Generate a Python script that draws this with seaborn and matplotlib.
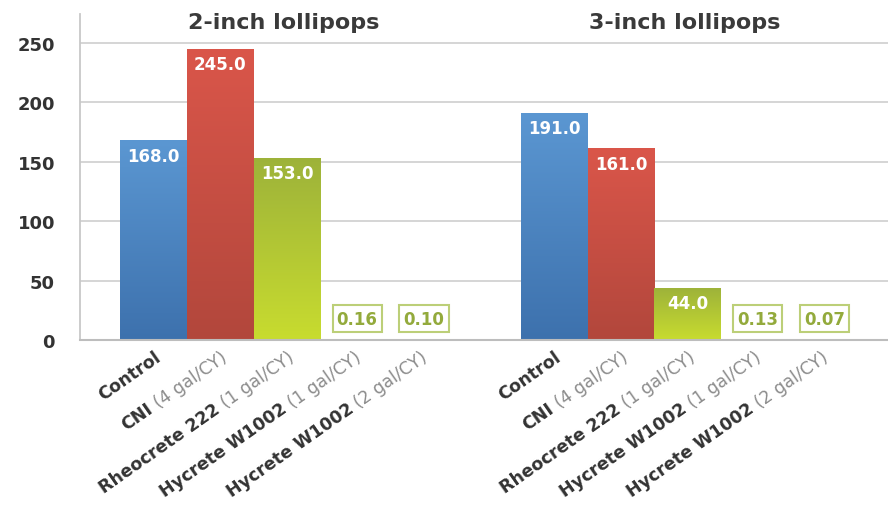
import numpy as np
import pandas as pd
import matplotlib
matplotlib.use("Agg")
import matplotlib.pyplot as plt
import seaborn as sns
from matplotlib.colors import LinearSegmentedColormap
from matplotlib.transforms import blended_transform_factory, offset_copy

# data
groups = ["2-inch lollipops", "3-inch lollipops"]
product_names = ["Control", "CNI", "Rheocrete 222", "Hycrete W1002", "Hycrete W1002"]
product_doses = ["", "(4 gal/CY)", "(1 gal/CY)", "(1 gal/CY)", "(2 gal/CY)"]
values_2in = [168.0, 245.0, 153.0, 0.16, 0.10]
values_3in = [191.0, 161.0, 44.0, 0.13, 0.07]

# (top, bottom) gradient colours per product
bar_colors = [("#5b97d2", "#3d71ad"), ("#da564a", "#b2473c"),
              ("#9db23a", "#c8dc2f"), ("#9db23a", "#c8dc2f"), ("#9db23a", "#c8dc2f")]

rows = []
for g, vals in zip(groups, [values_2in, values_3in]):
    for i, (name, dose, v) in enumerate(zip(product_names, product_doses, vals)):
        rows.append(dict(slot=f"{g}|{i}", group=g, idx=i, name=name, dose=dose, value=v))
df = pd.DataFrame(rows)

order = list(df.slot[df.group == groups[0]]) + ["gap"] + list(df.slot[df.group == groups[1]])
palette = {s: bar_colors[i][0] for s, i in zip(df.slot, df.idx)}

sns.set_style("white")
plt.rcParams["font.family"] = ["DejaVu Sans"]

fig = plt.figure(figsize=(8.88, 5.06), dpi=100)
ax = fig.add_axes([80 / 888, (506 - 341) / 506, 808 / 888, 326 / 506])

sns.barplot(data=df, x="slot", y="value", order=order, hue="slot", palette=palette,
            width=1.0, saturation=1, legend=False, ax=ax, edgecolor="none")

# gradient fill clipped to each bar
grad = np.linspace(0, 1, 256).reshape(-1, 1)
for patch in ax.patches:
    h = patch.get_height()
    if h < 1:
        continue
    x0, w = patch.get_x(), patch.get_width()
    pos = int(round(x0 + w / 2))
    i = int(df.loc[df.slot == order[pos], "idx"].iloc[0])
    top, bottom = bar_colors[i]
    cmap = LinearSegmentedColormap.from_list("g", [bottom, top])
    im = ax.imshow(grad, extent=[x0, x0 + w, 0, h], origin="lower", aspect="auto",
                   cmap=cmap, zorder=patch.get_zorder() + 0.1)
    im.set_clip_path(patch)

ax.set_xlim(-1.1, 11.0)
ax.set_ylim(0, 274)
ax.set_yticks([0, 50, 100, 150, 200, 250])
ax.set_xticks([])
ax.set_xlabel("")
ax.set_ylabel("")
ax.yaxis.grid(True, color="#d2d2d2", lw=1.3)
ax.set_axisbelow(True)
for s in ["top", "right"]:
    ax.spines[s].set_visible(False)
ax.spines["left"].set_color("#c8c8c8")
ax.spines["left"].set_linewidth(1.3)
ax.spines["bottom"].set_color("#bdbdbd")
ax.spines["bottom"].set_linewidth(1.5)
ax.tick_params(axis="y", length=8, color="#d2d2d2", width=1.3, pad=10,
               labelsize=13, labelcolor="#333333")
for lab in ax.get_yticklabels():
    lab.set_fontweight("bold")

# value labels
for _, r in df.iterrows():
    pos = order.index(r.slot)
    if r.value >= 1:
        ax.text(pos, r.value - 13, f"{r.value:.1f}", ha="center", va="center",
                color="white", fontsize=12, fontweight="bold", zorder=5)
    else:
        ax.text(pos + 0.05, 18, f"{r.value:.2f}", ha="center", va="center",
                color="#93aa3c", fontsize=12, fontweight="bold", zorder=5,
                bbox=dict(boxstyle="square,pad=0.25", fc="white", ec="#bccf78", lw=1.5))

# group titles above the middle bar of each group
for g in groups:
    pos = order.index(f"{g}|2")
    ax.text(pos - 0.05, 267, g, ha="center", va="center", fontsize=16,
            fontweight="bold", color="#3a3a3a")

# rotated category labels: bold name + grey dose
angle = 35
fs = 12.5
renderer = fig.canvas.get_renderer()
trans = blended_transform_factory(ax.transData, ax.transAxes)
for _, r in df.iterrows():
    pos = order.index(r.slot) + 0.08
    y = -0.045
    shift = 0.0
    if r.dose:
        ax.text(pos, y, r.dose, transform=trans, rotation=angle, rotation_mode="anchor",
                ha="right", va="center", fontsize=fs, color="#8c8c8c")
        tmp = ax.text(0, 0, r.dose, fontsize=fs)
        shift = tmp.get_window_extent(renderer).width * 72 / fig.dpi + 4
        tmp.remove()
    dx = -shift * np.cos(np.radians(angle))
    dy = -shift * np.sin(np.radians(angle))
    t2 = offset_copy(trans, fig=fig, x=dx, y=dy, units="points")
    ax.text(pos, y, r["name"], transform=t2, rotation=angle, rotation_mode="anchor",
            ha="right", va="center", fontsize=fs, fontweight="bold", color="#333333")

fig.savefig("out.png", dpi=100)
